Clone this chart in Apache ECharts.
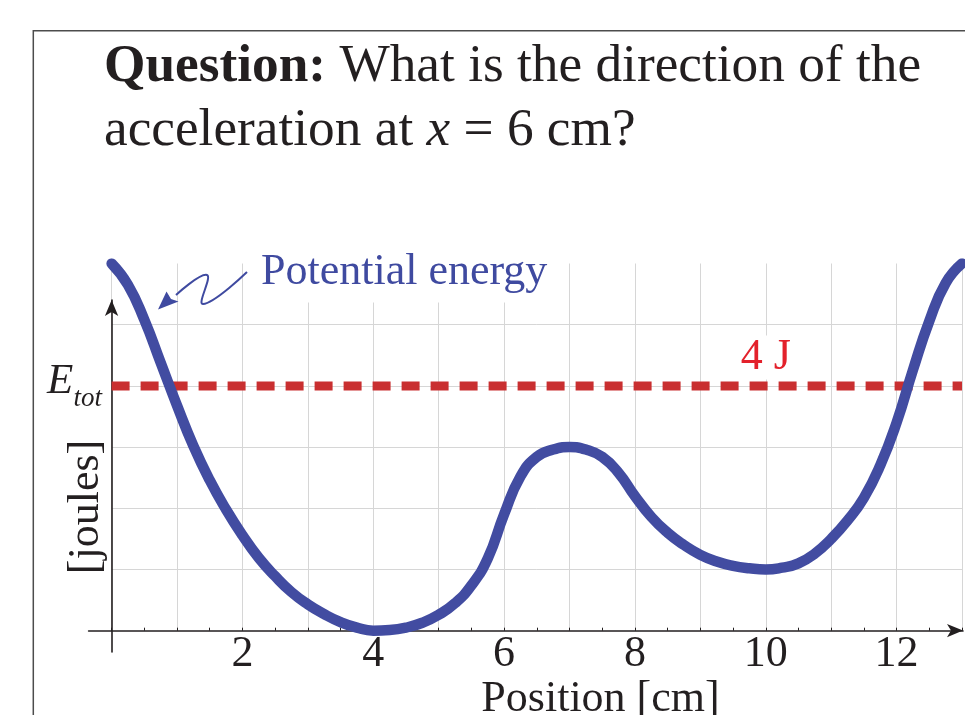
<!DOCTYPE html>
<html>
<head>
<meta charset="utf-8">
<script src="https://cdn.jsdelivr.net/npm/echarts@6/dist/echarts.min.js"></script>
<style>
  html, body { margin: 0; padding: 0; background: #fff; }
  #chart { width: 965px; height: 715px; }
</style>
</head>
<body>
<div id="chart"></div>
<script>
// Potential energy U(x) along the track, sampled every 0.25 cm
const positions = [0, 0.25, 0.5, 0.75, 1, 1.25, 1.5, 1.75, 2, 2.25, 2.5, 2.75, 3, 3.25, 3.5, 3.75,
  4, 4.25, 4.5, 4.75, 5, 5.25, 5.5, 5.75, 6, 6.25, 6.5, 6.75, 7, 7.25, 7.5, 7.75,
  8, 8.25, 8.5, 8.75, 9, 9.25, 9.5, 9.75, 10, 10.25, 10.5, 10.75, 11, 11.25, 11.5, 11.75,
  12, 12.25, 12.5, 12.75, 13];
const potentialEnergy = [6.0, 5.65, 5.08, 4.38, 3.68, 3.02, 2.46, 1.98, 1.56, 1.19, 0.89, 0.63, 0.43, 0.27, 0.14, 0.05,
  0.0, 0.01, 0.05, 0.13, 0.26, 0.45, 0.74, 1.18, 1.9, 2.52, 2.84, 2.96, 3.0, 2.96, 2.84, 2.58,
  2.2, 1.86, 1.6, 1.4, 1.24, 1.13, 1.06, 1.02, 1.0, 1.03, 1.1, 1.26, 1.5, 1.8, 2.17, 2.7,
  3.4, 4.26, 5.06, 5.68, 6.0];

// Total energy level (joules)
const totalEnergy = 4;
const totalEnergySpan = [0, 13];

// Position tick labels shown under the axis
const xTickLabels = [2, 4, 6, 8, 10, 12];

const INK = '#231f20';
const GRID = '#d6d6d6';
const BLUE = '#424ca1';
const SERIF = '"Liberation Serif", "Times New Roman", serif';

const chart = echarts.init(document.getElementById('chart'), null, { renderer: 'canvas' });

const curve = positions.map((x, i) => [x, potentialEnergy[i]]);
const etotLine = totalEnergySpan.map(x => [x, totalEnergy]);

const option = {
  backgroundColor: '#fff',
  animation: false,
  grid: [
    // plotting area: x 0..13 cm, y 0..6 J
    { left: 111.6, right: 0, top: 263.5, bottom: 84.3, containLabel: false },
    // axis-arrow frame, slightly overhanging the origin
    { left: 88.6, right: 2, top: 300, bottom: 63, containLabel: false }
  ],
  xAxis: [
    {
      gridIndex: 0, type: 'value', min: 0, max: 13, interval: 1,
      axisLine: { show: false },
      axisTick: { show: true, inside: true, length: 3, lineStyle: { color: INK, width: 1 } },
      minorTick: { show: true, splitNumber: 2, length: 3, lineStyle: { color: INK, width: 1 } },
      splitLine: { show: true, lineStyle: { color: GRID, width: 1 } },
      axisLabel: {
        show: true, margin: 2,
        fontFamily: SERIF, fontSize: 44, color: INK,
        formatter: v => (xTickLabels.includes(v) ? String(v) : '')
      }
    },
    {
      gridIndex: 1, type: 'value', min: -0.35, max: 12.963,
      axisLine: {
        show: true, onZero: true, symbol: ['none', 'arrow'], symbolSize: [10, 16],
        lineStyle: { color: INK, width: 1.6 }
      },
      axisTick: { show: false }, axisLabel: { show: false }, splitLine: { show: false }
    }
  ],
  yAxis: [
    {
      gridIndex: 0, type: 'value', min: 0, max: 6, interval: 1,
      axisLine: { show: false },
      axisTick: { show: false },
      splitLine: {
        show: true,
        lineStyle: { width: 1, color: ['rgba(0,0,0,0)', GRID, GRID, GRID, GRID, GRID, 'rgba(0,0,0,0)'] }
      },
      axisLabel: { show: false }
    },
    {
      gridIndex: 1, type: 'value', min: -0.35, max: 5.405,
      axisLine: {
        show: true, onZero: true, symbol: ['none', 'arrow'], symbolSize: [10, 16],
        lineStyle: { color: INK, width: 1.6 }
      },
      axisTick: { show: false }, axisLabel: { show: false }, splitLine: { show: false }
    }
  ],
  series: [
    {
      name: 'E_tot',
      type: 'line',
      xAxisIndex: 0, yAxisIndex: 0,
      data: etotLine,
      symbol: 'none',
      z: 2,
      lineStyle: { color: '#c92f30', width: 9, type: [18, 11], cap: 'butt' },
      markPoint: {
        symbol: 'circle', symbolSize: 1,
        itemStyle: { color: 'rgba(0,0,0,0)' },
        data: [{ coord: [10, totalEnergy], value: totalEnergy }],
        label: {
          show: true, position: 'top', distance: 6,
          formatter: p => p.value + ' J',
          fontFamily: SERIF, fontSize: 44, lineHeight: 44, color: '#e3212b',
          backgroundColor: '#fff', padding: [0, 1]
        }
      }
    },
    {
      name: 'Potential energy',
      type: 'line',
      xAxisIndex: 0, yAxisIndex: 0,
      data: curve,
      symbol: 'none',
      smooth: 0.5,
      z: 3,
      lineStyle: { color: BLUE, width: 10.5, cap: 'round', join: 'round' }
    }
  ],
  graphic: [
    // slide frame
    {
      type: 'rect', z: 0, silent: true,
      shape: { x: 33.3, y: 30.7, width: 1000, height: 1000 },
      style: { fill: 'none', stroke: '#4d4d4d', lineWidth: 1.5 }
    },
    // question text
    {
      type: 'text', z: 100, x: 104, y: 35,
      style: {
        text: '{b|Question:} What is the direction of the\nacceleration at {i|x} = 6 cm?',
        fontFamily: SERIF, fontSize: 53.3, lineHeight: 64, fill: INK,
        align: 'left', verticalAlign: 'top',
        rich: {
          b: { fontFamily: SERIF, fontSize: 53.3, lineHeight: 64, fontWeight: 'bold', fill: INK },
          i: { fontFamily: SERIF, fontSize: 53.3, lineHeight: 64, fontStyle: 'italic', fill: INK }
        }
      }
    },
    // curve caption with pointer
    {
      type: 'text', z: 100, x: 257, y: 272.4,
      style: {
        text: 'Potential energy', fontFamily: SERIF, fontSize: 44, lineHeight: 44,
        fill: '#3f4aa0', backgroundColor: '#fff', padding: [8, 4],
        align: 'left', verticalAlign: 'middle'
      }
    },
    {
      type: 'polyline', z: 100, silent: true,
      shape: { points: [[247, 272], [203, 304], [207, 275], [176, 295]], smooth: 0.45 },
      style: { stroke: '#3f4aa0', lineWidth: 2, fill: 'none' }
    },
    {
      type: 'polygon', z: 100, silent: true,
      shape: { points: [[158, 309.5], [166.5, 291.5], [171, 299], [178.5, 301.5]] },
      style: { fill: '#3f4aa0' }
    },
    // E_tot label
    {
      type: 'text', z: 100, x: 47, y: 381.8,
      style: { text: 'E', fontFamily: SERIF, fontSize: 43, fontStyle: 'italic', fill: INK, align: 'left', verticalAlign: 'middle' }
    },
    {
      type: 'text', z: 100, x: 73.5, y: 399,
      style: { text: 'tot', fontFamily: SERIF, fontSize: 27, fontStyle: 'italic', fill: INK, align: 'left', verticalAlign: 'middle' }
    },
    // axis titles
    {
      type: 'text', z: 100, x: 86, y: 507, rotation: Math.PI / 2,
      style: { text: '[joules]', fontFamily: SERIF, fontSize: 44, fill: INK, align: 'center', verticalAlign: 'middle' }
    },
    {
      type: 'text', z: 100, x: 600.5, y: 699.4,
      style: { text: 'Position [cm]', fontFamily: SERIF, fontSize: 44, fill: INK, align: 'center', verticalAlign: 'middle' }
    }
  ]
};

chart.setOption(option);
</script>
</body>
</html>
